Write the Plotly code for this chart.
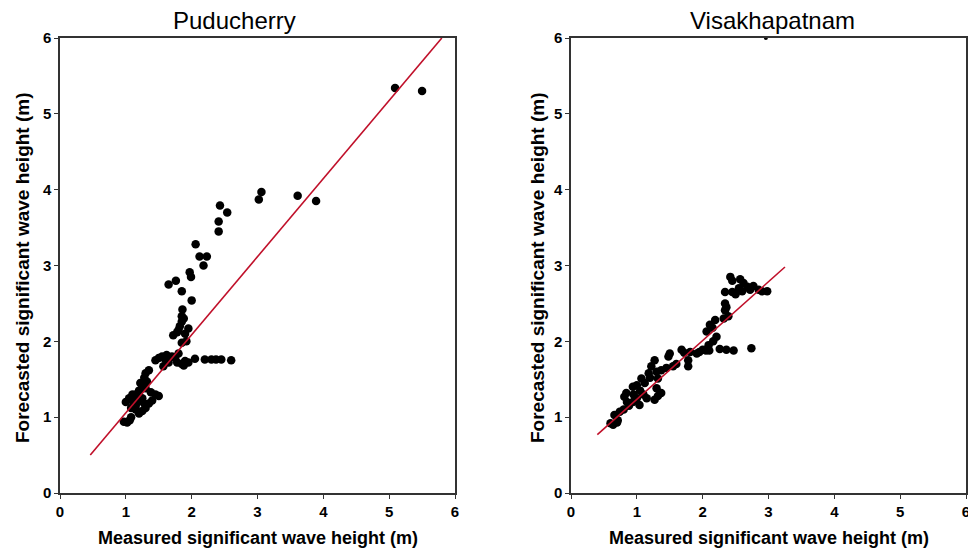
import plotly.graph_objects as go

# ---------------- data ----------------
pud_x = [0.97, 1.02, 1.06, 1.08, 1.00, 1.05, 1.10, 1.12, 1.15, 1.20, 1.25, 1.30, 1.35, 1.40,
         1.45, 1.50, 1.15, 1.20, 1.25, 1.30, 1.22, 1.28, 1.30, 1.35, 1.32, 1.18, 1.25, 1.10,
         1.38, 1.15, 1.28, 1.08,
         1.50, 1.55, 1.60, 1.57, 1.65, 1.70, 1.75, 1.80, 1.85, 1.90, 1.95, 1.88, 1.78, 1.62, 1.45,
         2.05, 2.20, 2.30, 2.37, 2.45, 2.60,
         1.85, 1.92, 1.95, 1.72, 1.78, 1.82, 1.85, 1.88, 1.86, 1.85, 1.80, 1.90,
         2.00, 1.85, 1.65, 1.76, 1.97, 1.99, 2.18, 2.12, 2.23, 2.06, 2.41, 2.41, 2.43, 2.54,
         3.02, 3.06, 3.61, 3.89, 5.09, 5.50]
pud_y = [0.94, 0.93, 0.96, 1.00, 1.20, 1.25, 1.22, 1.15, 1.10, 1.05, 1.08, 1.12, 1.18, 1.22,
         1.30, 1.28, 1.30, 1.35, 1.40, 1.38, 1.45, 1.52, 1.58, 1.62, 1.47, 1.20, 1.25, 1.30,
         1.33, 1.15, 1.18, 1.12,
         1.78, 1.80, 1.76, 1.67, 1.72, 1.80, 1.78, 1.84, 1.70, 1.74, 1.72, 1.68, 1.72, 1.82, 1.75,
         1.77, 1.76, 1.76, 1.76, 1.76, 1.75,
         1.98, 2.00, 2.17, 2.08, 2.12, 2.20, 2.26, 2.30, 2.42, 2.33, 2.15, 2.10,
         2.54, 2.66, 2.75, 2.80, 2.91, 2.85, 3.00, 3.12, 3.12, 3.28, 3.45, 3.58, 3.79, 3.70,
         3.87, 3.97, 3.92, 3.85, 5.34, 5.30]
pud_line_x = [0.46, 5.80]
pud_line_y = [0.50, 6.00]

vis_x = [2.42, 2.45, 2.57, 2.62, 2.68, 2.77, 2.34, 2.45, 2.55, 2.60, 2.72, 2.85, 2.90, 2.98, 2.50,
         2.34, 2.36, 2.34, 2.39, 2.32, 2.19, 2.11, 2.06, 2.15, 2.21, 2.16, 2.09, 2.00, 1.91, 1.95,
         2.05, 2.26, 2.36, 2.47, 2.74, 2.10, 1.81, 1.68, 1.72, 1.50, 1.48, 1.78, 1.78, 1.60, 1.55,
         1.45, 1.27, 1.22, 1.37, 1.30, 1.18, 1.32, 1.20, 1.07, 1.12, 1.00, 0.94, 1.05, 0.84, 0.81,
         0.95, 1.10, 1.37, 1.30, 1.27, 1.32, 1.04, 0.94, 0.88, 0.98, 0.74, 0.66, 0.71, 0.64, 0.70,
         0.80, 0.85, 1.15, 1.00, 0.60]
vis_y = [2.85, 2.80, 2.82, 2.77, 2.72, 2.73, 2.65, 2.65, 2.70, 2.66, 2.68, 2.68, 2.66, 2.66, 2.62,
         2.50, 2.45, 2.41, 2.33, 2.30, 2.28, 2.22, 2.13, 2.18, 2.06, 2.00, 1.95, 1.89, 1.84, 1.86,
         1.88, 1.90, 1.89, 1.88, 1.91, 1.88, 1.86, 1.89, 1.85, 1.84, 1.80, 1.75, 1.67, 1.70, 1.67,
         1.65, 1.75, 1.67, 1.62, 1.60, 1.58, 1.51, 1.52, 1.51, 1.45, 1.42, 1.40, 1.35, 1.32, 1.27,
         1.30, 1.30, 1.32, 1.38, 1.23, 1.28, 1.16, 1.20, 1.15, 1.22, 1.07, 1.03, 0.96, 0.90, 0.93,
         1.10, 1.20, 1.25, 1.25, 0.92]
vis_line_x = [0.40, 3.25]
vis_line_y = [0.77, 2.98]
vis_extra_x = [2.96]
vis_extra_y = [6.0]

ticks = [0, 1, 2, 3, 4, 5, 6]
tick_labels = ["0", "1", "2", "3", "4", "5", "6"]
titles = ["Puducherry", "Visakhapatnam"]
x_title = "Measured significant wave height (m)"
y_title = "Forecasted significant wave height (m)"

# ---------------- figure ----------------
FAM = "Liberation Sans"
fig = go.Figure()
marker = dict(color="black", size=8.5)
red = "#c0102a"
fig.add_trace(go.Scatter(x=pud_x, y=pud_y, mode="markers", marker=marker, xaxis="x", yaxis="y"))
fig.add_trace(go.Scatter(x=pud_line_x, y=pud_line_y, mode="lines",
                         line=dict(color=red, width=1.6), xaxis="x", yaxis="y"))
fig.add_trace(go.Scatter(x=vis_x, y=vis_y, mode="markers", marker=marker, xaxis="x2", yaxis="y2"))
fig.add_trace(go.Scatter(x=vis_line_x, y=vis_line_y, mode="lines",
                         line=dict(color=red, width=1.6), xaxis="x2", yaxis="y2"))
fig.add_trace(go.Scatter(x=vis_extra_x, y=vis_extra_y, mode="markers",
                         marker=dict(color="black", size=4), xaxis="x2", yaxis="y2",
                         cliponaxis=False))

tickfont = dict(family=FAM, size=15, color="black", weight="bold")

def axis(domain, anchor):
    return dict(domain=domain, anchor=anchor, range=[0, 6], tickvals=ticks, ticktext=tick_labels,
                showgrid=False, zeroline=False, showline=True, linecolor="#333", linewidth=1.5,
                mirror=True, ticks="outside", ticklen=4, tickcolor="#333",
                tickfont=tickfont, automargin=False, fixedrange=True,
                ticklabeloverflow="allow")

H, W = 553, 968
ydom = [1 - 493 / H, 1 - 38 / H]
xdom1 = [60 / W, 455 / W]
xdom2 = [571 / W, 966 / W]

ann = []
for t, cx in zip(titles, [234, 772]):
    ann.append(dict(text=t, x=cx / W, y=1 - 20 / H, xref="paper", yref="paper",
                    xanchor="center", yanchor="middle", showarrow=False,
                    font=dict(family=FAM, size=24, color="black")))
for cx in [(60 + 455) / 2, (571 + 966) / 2]:
    ann.append(dict(text=x_title, x=cx / W, y=1 - 538 / H, xref="paper", yref="paper",
                    xanchor="center", yanchor="middle", showarrow=False,
                    font=dict(family=FAM, size=18, color="black", weight="bold")))
for cx in [22, 537]:
    ann.append(dict(text=y_title, x=cx / W, y=1 - 268 / H, xref="paper", yref="paper",
                    xanchor="center", yanchor="middle", showarrow=False, textangle=-90,
                    font=dict(family=FAM, size=19, color="black", weight="bold")))

fig.update_layout(
    width=W, height=H,
    margin=dict(l=0, r=0, t=0, b=0),
    paper_bgcolor="white", plot_bgcolor="white",
    showlegend=False,
    xaxis=axis(xdom1, "y"),
    yaxis=axis(ydom, "x"),
    xaxis2=axis(xdom2, "y2"),
    yaxis2=axis(ydom, "x2"),
    annotations=ann,
    font=dict(family=FAM),
)

fig.write_html("out.html")
